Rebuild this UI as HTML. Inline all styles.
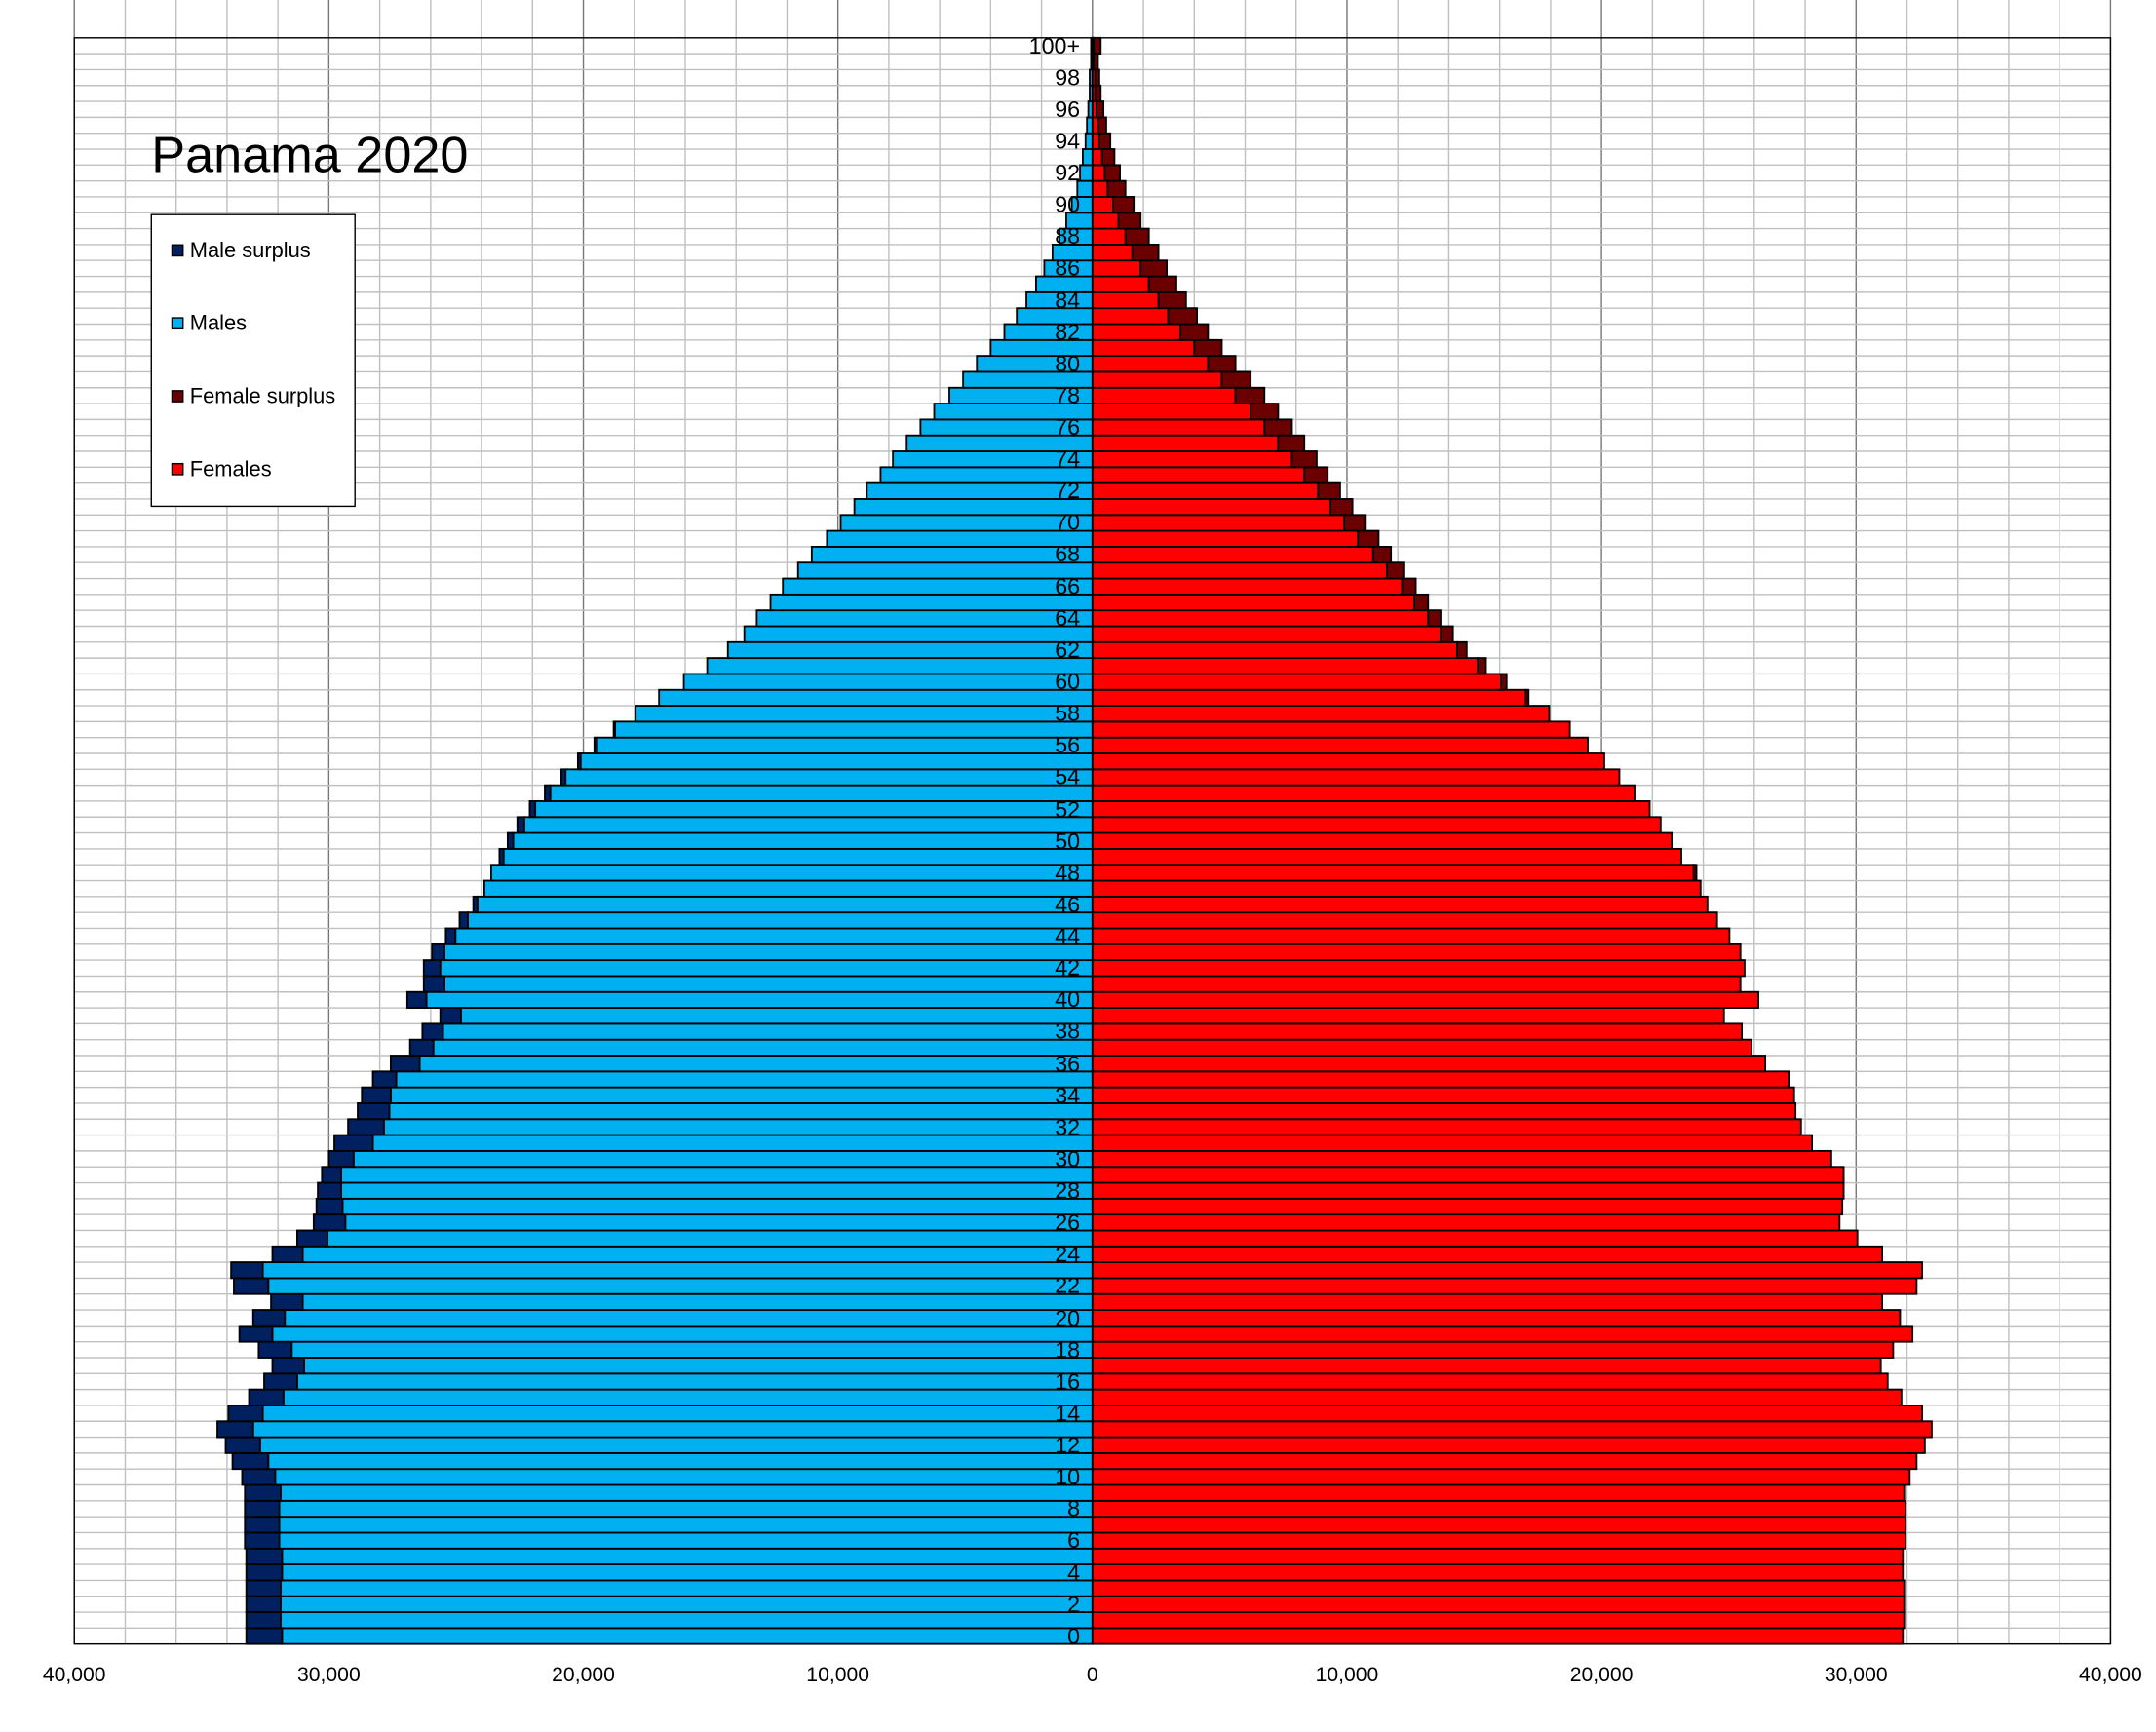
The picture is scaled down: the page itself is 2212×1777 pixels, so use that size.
<!DOCTYPE html>
<html><head><meta charset="utf-8"><style>html,body{margin:0;padding:0;background:#fff}svg{display:block}</style></head>
<body>
<svg id="s" width="2212" height="1777" viewBox="0 0 1567 1259" preserveAspectRatio="none" xmlns="http://www.w3.org/2000/svg" font-family="Liberation Sans, Arial, sans-serif">
<rect width="1567" height="1259" fill="#fff"/>
<g id="grid"></g>
<g id="bars"></g>
<rect x="54" y="27.5" width="1480" height="1167.5" fill="none" stroke="#000" stroke-width="1"/>
<g font-size="16.5" text-anchor="end" fill="#000">
<text x="785" y="39">100+</text><text x="785" y="62">98</text><text x="785" y="85">96</text><text x="785" y="108">94</text><text x="785" y="131">92</text><text x="785" y="154">90</text><text x="785" y="177">88</text><text x="785" y="200">86</text><text x="785" y="224">84</text><text x="785" y="247">82</text><text x="785" y="270">80</text><text x="785" y="293">78</text><text x="785" y="316">76</text><text x="785" y="339">74</text><text x="785" y="362">72</text><text x="785" y="385">70</text><text x="785" y="408">68</text><text x="785" y="432">66</text><text x="785" y="455">64</text><text x="785" y="478">62</text><text x="785" y="501">60</text><text x="785" y="524">58</text><text x="785" y="547">56</text><text x="785" y="570">54</text><text x="785" y="594">52</text><text x="785" y="617">50</text><text x="785" y="640">48</text><text x="785" y="663">46</text><text x="785" y="686">44</text><text x="785" y="709">42</text><text x="785" y="732">40</text><text x="785" y="755">38</text><text x="785" y="779">36</text><text x="785" y="802">34</text><text x="785" y="825">32</text><text x="785" y="848">30</text><text x="785" y="871">28</text><text x="785" y="894">26</text><text x="785" y="917">24</text><text x="785" y="940">22</text><text x="785" y="964">20</text><text x="785" y="987">18</text><text x="785" y="1010">16</text><text x="785" y="1033">14</text><text x="785" y="1056">12</text><text x="785" y="1079">10</text><text x="785" y="1102">8</text><text x="785" y="1125">6</text><text x="785" y="1149">4</text><text x="785" y="1172">2</text><text x="785" y="1195">0</text>
</g>
<g font-size="15" text-anchor="middle">
<text x="54" y="1222">40,000</text><text x="239" y="1222">30,000</text><text x="424" y="1222">20,000</text><text x="609" y="1222">10,000</text><text x="794" y="1222">0</text><text x="979" y="1222">10,000</text><text x="1164" y="1222">20,000</text><text x="1349" y="1222">30,000</text><text x="1534" y="1222">40,000</text>
</g>
<text x="110" y="125" font-size="37">Panama 2020</text>
<rect x="110" y="156" width="148" height="212" fill="#fff" stroke="#000" stroke-width="1"/>
<g font-size="15.5">
<rect x="125" y="178" width="8" height="8" fill="#002060" stroke="#000" stroke-width="1"/><text x="138" y="187">Male surplus</text>
<rect x="125" y="231" width="8" height="8" fill="#00b0f0" stroke="#000" stroke-width="1"/><text x="138" y="240">Males</text>
<rect x="125" y="284" width="8" height="8" fill="#6b0000" stroke="#000" stroke-width="1"/><text x="138" y="293">Female surplus</text>
<rect x="125" y="337" width="8" height="8" fill="#ff0000" stroke="#000" stroke-width="1"/><text x="138" y="346">Females</text>
</g>
</svg>
<script>
var L=[179,179,179,179,179,179,178,178,178,178,176,169,164,158,166,181,192,198,188,174,184,197,170,168,198,216,228,230,231,234,239,243,253,260,263,271,284,298,307,320,296,308,308,314,324,334,344,352,357,363,369,376,385,396,408,420,432,446,462,479,497,514,529,541,550,560,569,580,590,601,611,621,630,640,649,659,669,679,690,700,710,720,730,739,746,753,759,765,770,775,779,783,785,787,789,790,791,792,792,793,793];
var R=[1383,1384,1384,1384,1383,1383,1385,1385,1385,1384,1388,1393,1399,1404,1397,1382,1372,1367,1376,1390,1381,1368,1393,1397,1368,1350,1337,1339,1340,1340,1331,1317,1309,1305,1304,1300,1283,1273,1266,1253,1278,1265,1268,1265,1257,1248,1241,1236,1233,1222,1215,1207,1199,1188,1177,1166,1154,1141,1126,1111,1095,1080,1066,1056,1047,1038,1029,1020,1011,1002,992,983,974,965,957,948,939,929,919,909,898,888,878,870,862,855,848,842,835,829,824,818,814,810,807,804,802,800,799,798,800];
var ns="http://www.w3.org/2000/svg",g=document.getElementById('grid'),b=document.getElementById('bars');
function el(p,t,a){var e=document.createElementNS(ns,t);for(var k in a)e.setAttribute(k,a[k]);p.appendChild(e);}
var C=794,top=27.5,rh=(1195-27.5)/101;
for(var i=0;i<=40;i++){var x=54+i*37;el(g,'line',{x1:x,x2:x,y1:top,y2:1195,stroke:(i%5==0)?'#777':'#c0c0c0','stroke-width':1});}
for(var j=0;j<=101;j++){var y=1195-j*rh;el(g,'line',{x1:54,x2:1534,y1:y,y2:y,stroke:'#c0c0c0','stroke-width':1});}
for(var a=0;a<=100;a++){var y=1195-(a+1)*rh,l=L[a],r=R[a],m=C-l,f=r-C,mn=Math.min(m,f);
function R2(x,w,c){if(w>0.1)el(b,'rect',{x:x,y:y,width:w,height:rh,fill:c,stroke:'#000','stroke-width':1.3});}
R2(C-mn,mn,'#00b0f0');R2(C,mn,'#ff0000');
if(m>f)R2(l,m-mn,'#002060');if(f>m)R2(C+mn,f-mn,'#6b0000');}
</script>
</body></html>
